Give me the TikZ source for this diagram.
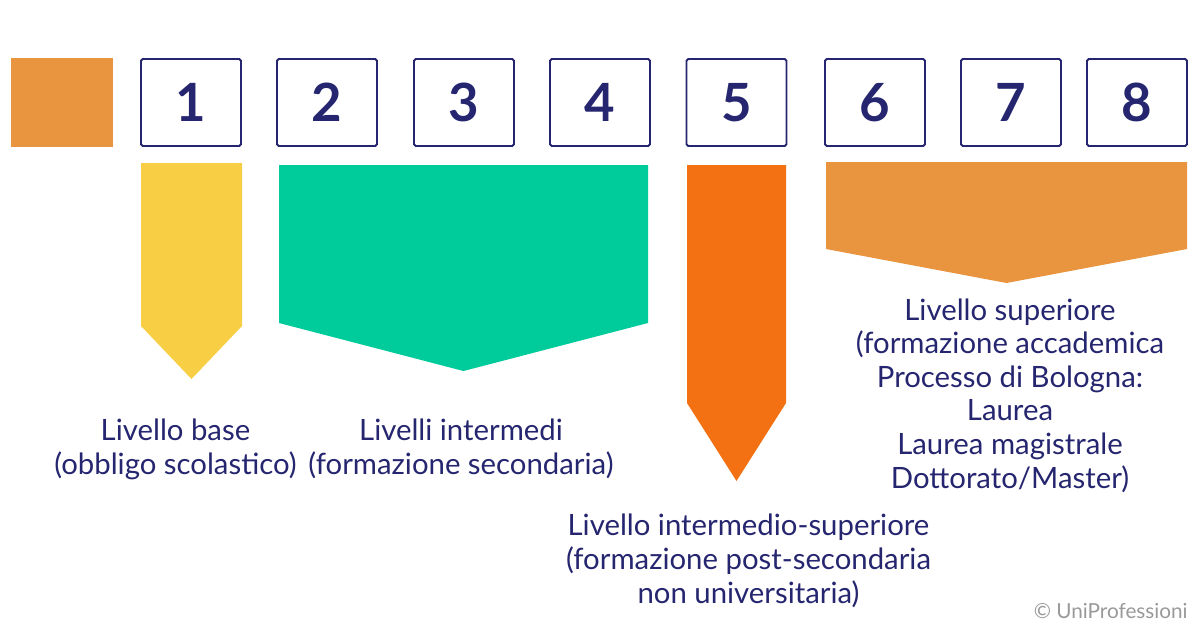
\documentclass[tikz,border=0pt]{standalone}
\usepackage{fontspec}
\setmainfont{Lato}
\definecolor{navy}{HTML}{25266F}
\definecolor{softorange}{HTML}{E99540}
\definecolor{sunyellow}{HTML}{F7CE44}
\definecolor{mint}{HTML}{00CB9B}
\definecolor{deeporange}{HTML}{F37112}
\begin{document}
\begin{tikzpicture}[x=0.02cm,y=-0.02cm,
    numbox/.style={draw=navy,line width=1.1pt,rounded corners=1pt,minimum width=2cm,
      minimum height=1.74cm,inner sep=0pt,text=navy,font=\bfseries\fontsize{30}{30}\selectfont},
    levtext/.style={align=center,text=navy,inner sep=0pt,anchor=base,
      font=\fontsize{16.7}{19.1}\selectfont}]
  \useasboundingbox (0,0) rectangle (1200,630);
  \node[fill=softorange,minimum width=2.04cm,minimum height=1.78cm,inner sep=0pt] (b0) at (62,102.5) {};
  \foreach\n/\x in {1/191,2/327,3/464,4/600,5/736.5,6/875,7/1011,8/1137}{
    \node[numbox] (b\n) at (\x,102.5) {\n};
  }
  % arrows: colour/left/right/top/shoulder/tip
  \foreach\c/\l/\r/\t/\s/\p in {sunyellow/141/242/163/326/379,mint/279/648/165/323/371,
      deeporange/687/786/165/403/481,softorange/826/1187/162/249/283}{
    \fill[\c] (\l,\t) -- (\r,\t) -- (\r,\s) -- ({(\l+\r)/2},\p) -- (\l,\s) -- cycle;
  }
  % base anchor sits on the last line
  \node[levtext] (base) at (175.5,474.5) {Livello base\\(obbligo scolastico)};
  \node[levtext] (inter) at (461,474.5) {Livelli intermedi\\(formazione secondaria)};
  \node[levtext] (intsup) at (748.5,603) {Livello intermedio-superiore\\(formazione post-secondaria\\non universitaria)};
  \node[levtext] (sup) at (1010,488) {Livello superiore\\(formazione accademica\\Processo di Bologna:\\Laurea\\Laurea magistrale\\Dottorato/Master)};
  \node[anchor=base east,inner sep=0pt,text=black!40,font=\fontsize{11.8}{13}\selectfont] (copy) at (1188,618) {© UniProfessioni};
\end{tikzpicture}
\end{document}
